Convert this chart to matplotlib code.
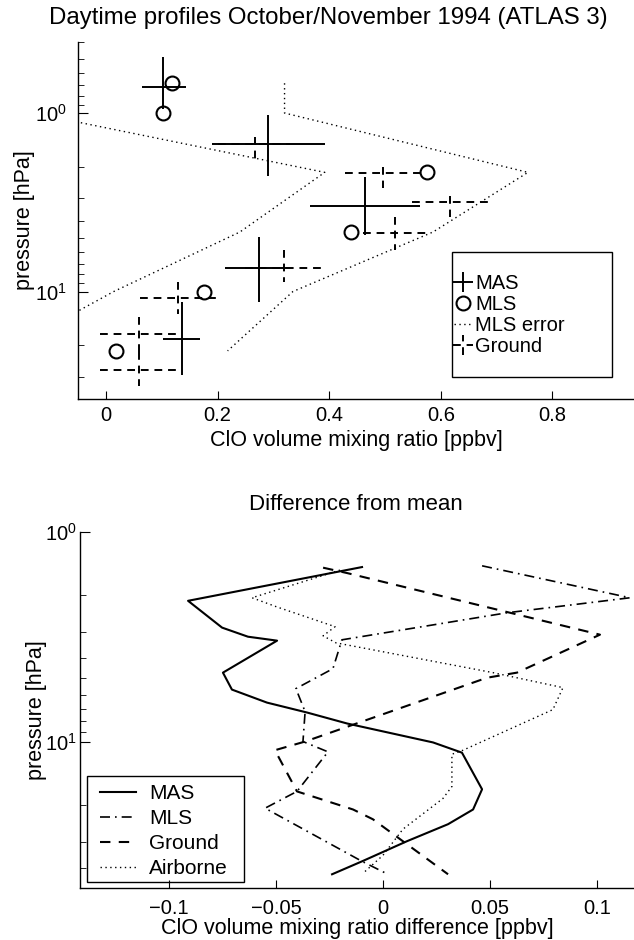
import matplotlib
matplotlib.use("Agg")
import matplotlib.pyplot as plt
import numpy as np
from matplotlib.patches import Rectangle
from matplotlib.ticker import LogLocator, NullFormatter, FixedLocator

plt.rcParams['font.family'] = ['Liberation Sans', 'DejaVu Sans']
plt.rcParams['mathtext.default'] = 'regular'

# ---------------- Top panel data ----------------
mas_x = [0.102, 0.290, 0.464, 0.274, 0.136]
mas_xlo = [0.064, 0.190, 0.365, 0.213, 0.102]
mas_xhi = [0.143, 0.392, 0.562, 0.330, 0.168]
mas_p = [0.716, 1.49, 3.31, 7.35, 18.5]
mas_plo = [0.487, 1.03, 2.28, 4.93, 11.5]
mas_phi = [0.95, 2.25, 4.80, 11.5, 29.5]

mls_p = [0.681, 1.0, 2.15, 4.64, 10.0, 21.5]
mls_x = [0.118, 0.102, 0.575, 0.439, 0.175, 0.018]
mls_err_lo = [-0.10, -0.13, 0.392, 0.24, 0.014, -0.18]
mls_err_hi = [0.32, 0.32, 0.756, 0.586, 0.335, 0.218]

gnd_x = [0.267, 0.496, 0.616, 0.517, 0.319, 0.129, 0.059, 0.059]
gnd_xlo = [0.20, 0.428, 0.548, 0.460, 0.249, 0.061, -0.011, -0.011]
gnd_xhi = [0.33, 0.564, 0.684, 0.580, 0.388, 0.197, 0.132, 0.132]
gnd_p = [1.49, 2.16, 3.14, 4.68, 7.35, 10.9, 17.4, 27.6]
gnd_plo = [1.36, 2.0, 2.91, 3.81, 5.82, 8.9, 13.8, 21.9]
gnd_phi = [1.83, 2.62, 3.81, 5.82, 8.8, 13.4, 21.9, 34.0]

top_xticks = [0, 0.2, 0.4, 0.6, 0.8]
top_xticklabels = ['0', '0.2', '0.4', '0.6', '0.8']

# ---------------- Bottom panel data ----------------
d_mas_x = [-0.0098, -0.0911, -0.0752, -0.0631, -0.0495, -0.0748, -0.0706, -0.0542,
           -0.0355, -0.0168, 0.0234, 0.0369, 0.0463, 0.0421, 0.0304, 0.0112, -0.0098, -0.0238]
d_mas_p = [1.47, 2.13, 2.86, 3.16, 3.30, 4.69, 5.65, 6.52,
           7.27, 8.2, 10.1, 11.3, 16.9, 21.1, 24.8, 29.9, 37.3, 43.0]

d_mls_x = [0.0463, 0.1154, 0.0579, -0.0192, -0.0234, -0.0407, -0.0364, -0.0374,
           -0.0257, -0.0402, -0.0551, -0.0098, 0.0023]
d_mls_p = [1.45, 2.06, 2.43, 3.27, 4.49, 5.59, 7.2, 10.0,
           11.2, 17.3, 20.8, 37.3, 43.0]

d_gnd_x = [-0.028, -0.0168, 0.1014, 0.0626, 0.0486, -0.0364, -0.0505, -0.0402,
           -0.014, -0.0047, 0.0304]
d_gnd_p = [1.48, 1.57, 3.09, 4.69, 4.96, 10.0, 11.0, 17.3,
           21.1, 23.5, 43.0]

d_air_x = [-0.0201, -0.0612, -0.0495, -0.0224, -0.028, -0.022, 0.0514, 0.0841,
           0.0794, 0.0374, 0.0322, 0.0322, 0.028, 0.0093, 0.0, -0.0093]
d_air_p = [1.52, 2.06, 2.28, 2.83, 3.13, 3.38, 4.69, 5.53,
           7.04, 11.0, 11.5, 16.4, 18.7, 26.2, 34.9, 42.5]

bot_xticks = [-0.1, -0.05, 0, 0.05, 0.1]
bot_xticklabels = ['\u22120.1', '\u22120.05', '0', '0.05', '0.1']

FS = 14.5     # tick labels
LFS = 15.5    # axis labels

fig = plt.figure(figsize=(6.34, 9.40), dpi=100)

# =============== Top panel ===============
ax1 = fig.add_axes([78/634, (940-399)/940, 556/634, 357/940])
ax1.set_yscale('log')

mas_xerr = [np.subtract(mas_x, mas_xlo), np.subtract(mas_xhi, mas_x)]
mas_yerr = [np.subtract(mas_p, mas_plo), np.subtract(mas_phi, mas_p)]
eb_mas = ax1.errorbar(mas_x, mas_p, xerr=mas_xerr, yerr=mas_yerr, fmt='none',
                      ecolor='k', elinewidth=1.4, capsize=0, label='MAS')

gnd_xerr = [np.subtract(gnd_x, gnd_xlo), np.subtract(gnd_xhi, gnd_x)]
gnd_yerr = [np.subtract(gnd_p, gnd_plo), np.subtract(gnd_phi, gnd_p)]
eb_gnd = ax1.errorbar(gnd_x, gnd_p, xerr=gnd_xerr, yerr=gnd_yerr, fmt='none',
                      ecolor='k', elinewidth=1.4, capsize=0, label='Ground')
for c in eb_gnd[2]:
    c.set_linestyle((0, (4, 3)))

mls_line, = ax1.plot(mls_x, mls_p, linestyle='none', marker='o', markersize=10,
                     markerfacecolor='none', markeredgecolor='k', markeredgewidth=1.5,
                     label='MLS')
err_line, = ax1.plot(mls_err_lo, mls_p, color='k', lw=1.0, linestyle=(0, (1, 2.5)),
                     label='MLS error')
ax1.plot(mls_err_hi, mls_p, color='k', lw=1.0, linestyle=(0, (1, 2.5)))

ax1.set_xlim(-0.05, 0.946)
ax1.set_ylim(40, 0.4)
ax1.set_xticks(top_xticks)
ax1.set_xticklabels(top_xticklabels)
ax1.yaxis.set_major_locator(FixedLocator([1, 10]))
ax1.yaxis.set_minor_locator(LogLocator(base=10, subs=np.arange(2, 10)))
ax1.yaxis.set_minor_formatter(NullFormatter())
ax1.set_yticklabels([r'$10^0$', r'$10^1$'])

ax1.set_ylabel('pressure [hPa]', fontsize=LFS)
ax1.yaxis.set_label_coords(-0.077, 0.5)
ax1.set_xlabel('ClO volume mixing ratio [ppbv]', fontsize=LFS)
ax1.xaxis.set_label_coords(0.5, -0.087)

ax1.add_patch(Rectangle((0.6727, 0.0616), 0.2878, 0.350, transform=ax1.transAxes,
                        fill=False, edgecolor='k', lw=1.0, zorder=5))
leg1 = ax1.legend([eb_mas, mls_line, err_line, eb_gnd], ['MAS', 'MLS', 'MLS error', 'Ground'],
                  loc='upper left', bbox_to_anchor=(0.676, 0.350), fontsize=14.5,
                  handlelength=0.9, handletextpad=0.15, labelspacing=0.1,
                  borderpad=0.0, borderaxespad=0.0, frameon=False)

fig.text(328/634, 1 - 18/940, 'Daytime profiles October/November 1994 (ATLAS 3)',
         ha='center', va='center', fontsize=17.3)

# =============== Bottom panel ===============
ax2 = fig.add_axes([80/634, 52/940, 554/634, 356/940])
ax2.set_yscale('log')
ax2.plot(d_mas_x, d_mas_p, color='k', lw=1.5, linestyle='-', label='MAS')
ax2.plot(d_mls_x, d_mls_p, color='k', lw=1.2, linestyle=(0, (6, 3, 1, 3)), label='MLS')
ax2.plot(d_gnd_x, d_gnd_p, color='k', lw=1.5, linestyle=(0, (5, 4)), label='Ground')
ax2.plot(d_air_x, d_air_p, color='k', lw=1.0, linestyle=(0, (1, 2.5)), label='Airborne')

ax2.set_xlim(-0.1416, 0.1173)
ax2.set_ylim(50, 1)
ax2.set_xticks(bot_xticks)
ax2.set_xticklabels(bot_xticklabels)
ax2.yaxis.set_major_locator(FixedLocator([1, 10]))
ax2.yaxis.set_minor_locator(LogLocator(base=10, subs=np.arange(2, 10)))
ax2.yaxis.set_minor_formatter(NullFormatter())
ax2.set_yticklabels([r'$10^0$', r'$10^1$'])

ax2.set_ylabel('pressure [hPa]', fontsize=LFS)
ax2.yaxis.set_label_coords(-0.060, 0.5)
ax2.set_xlabel('ClO volume mixing ratio difference [ppbv]', fontsize=LFS)
ax2.xaxis.set_label_coords(0.5, -0.084)
fig.text(356/634, 1 - 505/940, 'Difference from mean', ha='center', va='center', fontsize=16)

ax2.add_patch(Rectangle((0.01264, 0.01685), 0.2834, 0.2978, transform=ax2.transAxes,
                        fill=False, edgecolor='k', lw=1.0, zorder=5))
leg2 = ax2.legend(loc='upper left', bbox_to_anchor=(0.036, 0.2916), fontsize=15,
                  handlelength=1.75, handletextpad=0.6, labelspacing=0.29,
                  borderpad=0.0, borderaxespad=0.0, frameon=False)

for ax in (ax1, ax2):
    for s in ('top', 'right'):
        ax.spines[s].set_visible(False)
    ax.spines['left'].set_linewidth(1.0)
    ax.spines['bottom'].set_linewidth(1.0)
    ax.tick_params(which='both', direction='in', top=False, right=False, labelsize=FS)
    ax.tick_params(axis='y', which='minor', length=4)
ax1.tick_params(axis='y', which='major', length=7, pad=8)
ax2.tick_params(axis='y', which='major', length=7, pad=2.5)
ax1.tick_params(axis='x', which='major', length=6, pad=5)
ax2.tick_params(axis='x', which='major', length=6, pad=8)

fig.savefig('out.png', dpi=100, facecolor='white')
